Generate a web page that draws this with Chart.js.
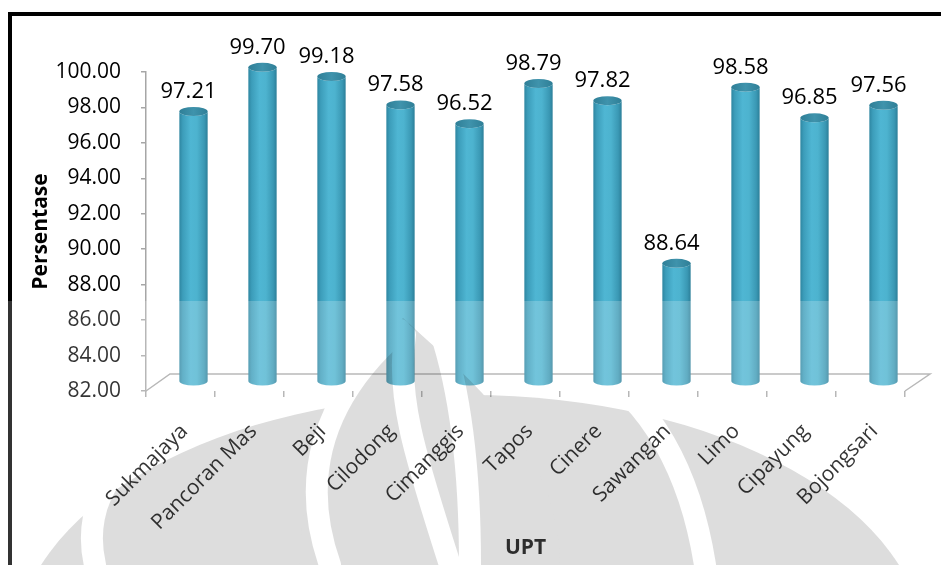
<!DOCTYPE html>
<html>
<head>
<meta charset="utf-8">
<script src="https://cdn.jsdelivr.net/npm/chart.js@4.4.1/dist/chart.umd.min.js"></script>
<style>
html,body{margin:0;padding:0;background:#fff;overflow:hidden}
#wrap{width:941px;height:565px;position:relative}
</style>
</head>
<body>
<div id="wrap"><canvas id="c" width="941" height="565"></canvas></div>
<script>
const categories = ['Sukmajaya','Pancoran Mas','Beji','Cilodong','Cimanggis','Tapos','Cinere','Sawangan','Limo','Cipayung','Bojongsari'];
const values = [97.21, 99.70, 99.18, 97.58, 96.52, 98.79, 97.82, 88.64, 98.58, 96.85, 97.56];
const yMin = 82;
const yMax = 100;
const yStep = 2;
const yTitle = 'Persentase';
const xTitle = 'UPT';

const FONT = "'Open Sans', 'DejaVu Sans', sans-serif";
const DEPTH_X = 13, DEPTH_Y = -10;

const floorPlugin = {
  id: 'floor',
  beforeDatasetsDraw(chart) {
    const {ctx, chartArea: a} = chart;
    ctx.save();
    ctx.strokeStyle = '#A6A6A6';
    ctx.lineWidth = 1.5;
    ctx.beginPath();
    ctx.moveTo(a.left, a.bottom);
    ctx.lineTo(a.left + 24, a.bottom - 17);
    ctx.lineTo(a.right + 25, a.bottom - 17);
    ctx.lineTo(a.right, a.bottom);
    ctx.stroke();
    ctx.restore();
  }
};

const cylinderPlugin = {
  id: 'cylinders',
  afterDatasetsDraw(chart) {
    const {ctx} = chart;
    const yScale = chart.scales.y;
    const meta = chart.getDatasetMeta(0);
    ctx.save();
    meta.data.forEach((bar, i) => {
      const p = bar.getProps(['x', 'y', 'width'], true);
      const cx = p.x + DEPTH_X;
      const top = p.y + DEPTH_Y;
      const bot = yScale.getPixelForValue(yMin) + DEPTH_Y;
      const hw = p.width / 2;
      const ry = 4.5;
      const g = ctx.createLinearGradient(cx - hw, 0, cx + hw, 0);
      g.addColorStop(0, '#2E86A1');
      g.addColorStop(0.12, '#3C9DBA');
      g.addColorStop(0.4, '#4FB6D3');
      g.addColorStop(0.62, '#4DB3CF');
      g.addColorStop(0.88, '#3A98B4');
      g.addColorStop(1, '#2C7F99');
      ctx.beginPath();
      ctx.moveTo(cx - hw, top);
      ctx.lineTo(cx - hw, bot);
      ctx.ellipse(cx, bot, hw, ry, 0, Math.PI, 0, true);
      ctx.lineTo(cx + hw, top);
      ctx.ellipse(cx, top, hw, ry, 0, 0, Math.PI, false);
      ctx.closePath();
      ctx.fillStyle = g;
      ctx.fill();
      const gc = ctx.createLinearGradient(cx - hw, 0, cx + hw, 0);
      gc.addColorStop(0, '#2F7F97');
      gc.addColorStop(0.5, '#3F93AC');
      gc.addColorStop(1, '#2F7F97');
      ctx.beginPath();
      ctx.ellipse(cx, top, hw, ry, 0, 0, Math.PI * 2);
      ctx.fillStyle = gc;
      ctx.fill();
      ctx.fillStyle = '#000';
      ctx.font = '22px ' + FONT;
      ctx.textAlign = 'center';
      ctx.textBaseline = 'alphabetic';
      ctx.fillText(values[i].toFixed(2), cx - 5, top - ry - 9);
    });
    ctx.restore();
  }
};

function watermarkCanvas() {
  const off = document.createElement('canvas');
  off.width = 941; off.height = 565;
  const o = off.getContext('2d');
  o.fillStyle = '#DDDDDD';
  o.beginPath();
  o.ellipse(470, 650, 455, 255, 0, 0, Math.PI * 2);
  o.fill();
  o.beginPath();
  o.moveTo(300, 565);
  o.bezierCurveTo(300, 450, 360, 370, 403, 318);
  o.bezierCurveTo(470, 380, 560, 450, 560, 565);
  o.closePath();
  o.fill();
  o.globalCompositeOperation = 'destination-out';
  o.lineCap = 'round';
  o.lineWidth = 22;
  const stripes = [
    [[95,565],[80,500],[120,440],[200,425]],
    [[330,565],[300,480],[320,400],[400,330]],
    [[450,565],[420,470],[395,400],[405,335]],
    [[470,565],[470,470],[460,390],[440,330]],
    [[705,565],[690,470],[650,400],[590,365]]
  ];
  stripes.forEach(s => {
    o.beginPath();
    o.moveTo(s[0][0], s[0][1]);
    o.bezierCurveTo(s[1][0], s[1][1], s[2][0], s[2][1], s[3][0], s[3][1]);
    o.stroke();
  });
  o.fillRect(0, 0, 941, 301);
  return off;
}

const framePlugin = {
  id: 'frame',
  afterDraw(chart) {
    const {ctx} = chart;
    ctx.save();
    ctx.fillStyle = '#000';
    ctx.fillRect(8, 12, 941 - 8, 4);
    ctx.fillRect(8, 12, 4, 565 - 12);
    ctx.fillStyle = 'rgba(255,255,255,0.2)';
    ctx.fillRect(0, 301, 941, 264);
    ctx.globalCompositeOperation = 'multiply';
    ctx.drawImage(watermarkCanvas(), 0, 0);
    ctx.restore();
  }
};

new Chart(document.getElementById('c'), {
  type: 'bar',
  data: {
    labels: categories,
    datasets: [{
      data: values,
      backgroundColor: 'rgba(0,0,0,0)',
      borderWidth: 0,
      barPercentage: 0.41,
      categoryPercentage: 1
    }]
  },
  options: {
    responsive: false,
    animation: false,
    devicePixelRatio: 1,
    layout: {padding: {top: 72, right: 36, bottom: 0, left: 28}},
    plugins: {legend: {display: false}, tooltip: {enabled: false}},
    scales: {
      x: {
        grid: {display: true, drawOnChartArea: false, offset: true, color: '#A6A6A6', tickColor: '#A6A6A6', tickLength: 6, lineWidth: 1.5},
        border: {display: false},
        ticks: {minRotation: 45, maxRotation: 45, color: '#000', font: {family: FONT, size: 21}, padding: 22, labelOffset: 4, autoSkip: false},
        title: {display: true, text: xTitle, color: '#000', font: {family: FONT, size: 21, weight: 'bold'}, padding: {top: 0, bottom: 4}},
        afterFit(s) { s.height = 174; }
      },
      y: {
        min: yMin,
        max: yMax,
        ticks: {stepSize: yStep, callback: v => Number(v).toFixed(2), color: '#000', font: {family: FONT, size: 21}, padding: 20},
        grid: {drawOnChartArea: false, color: '#A6A6A6', tickColor: '#A6A6A6', tickLength: 5, lineWidth: 1.5},
        border: {display: true, color: '#A6A6A6', width: 1.5},
        title: {display: true, text: yTitle, color: '#000', font: {family: FONT, size: 21, weight: 'bold'}, padding: {top: 0, bottom: 0}},
        afterFit(s) { s.width = 118; }
      }
    }
  },
  plugins: [floorPlugin, cylinderPlugin, framePlugin]
});
</script>
</body>
</html>
